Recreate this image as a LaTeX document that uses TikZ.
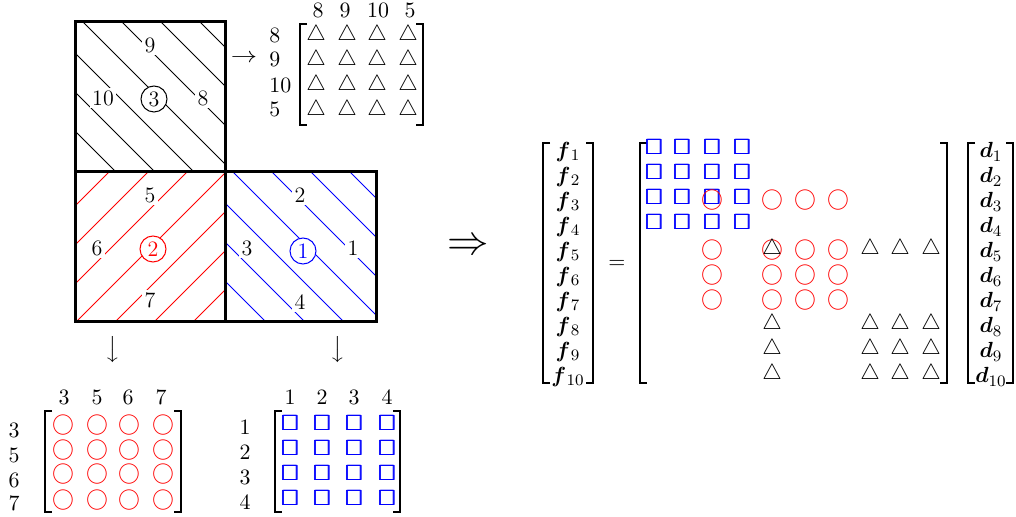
\documentclass[tikz,border=0pt]{standalone}
\usepackage{amsmath,amssymb,bm,graphicx}
\begin{document}
\begin{tikzpicture}[x=0.5pt,y=-0.5pt,
  every node/.style={font=\fontsize{11}{13}\selectfont},
  lbl/.style={fill=white,inner sep=1.2pt},
  cnum/.style={circle,draw,fill=white,minimum size=13pt,inner sep=0pt,line width=0.5pt},
  elem/.style={line width=1.5pt,line join=miter},
  hatch/.style={line width=0.5pt},
  brk/.style={line width=0.9pt},
  gl/.style={inner sep=0pt}]
\useasboundingbox (0,0) rectangle (1016,517);
% ---------- hatching ----------
\begin{scope}
  \clip (75,22) rectangle (225,172);
  \foreach \c in {-95,-56,-17,22,61,100,139,178} \draw[hatch] (\c,0) -- (\c+200,200);
\end{scope}
\begin{scope}
  \clip (75,172) rectangle (225,322);
  \foreach \c in {281,320,359,398,437,476,515} \draw[hatch,red] (\c-150,150) -- (\c-350,350);
\end{scope}
\begin{scope}
  \clip (225,172) rectangle (376,322);
  \foreach \c in {-95,-56,-17,22,61,100,139,178} \draw[hatch,blue] (\c+150,150) -- (\c+350,350);
\end{scope}
% ---------- element borders ----------
\draw[elem] (75,22) rectangle (225,172);
\draw[elem] (75,172) rectangle (225,322);
\draw[elem] (225,172) rectangle (376,322);
% ---------- element labels ----------
\node[lbl] (n9a) at (150,45) {9};
\node[lbl] (n10a) at (103,98) {10};
\node[cnum] (e3) at (154,99) {3};
\node[lbl] (n8a) at (203,98) {8};
\node[lbl] (n5b) at (150,195) {5};
\node[lbl] (n6b) at (97,248) {6};
\node[cnum,draw=red,text=red] (e2) at (153,249) {2};
\node[lbl] (n7b) at (150,300) {7};
\node[lbl] (n2c) at (300,195) {2};
\node[lbl] (n3c) at (247,248) {3};
\node[cnum,draw=blue,text=blue] (e1) at (303,251) {1};
\node[lbl] (n1c) at (353,248) {1};
\node[lbl] (n4c) at (300,302) {4};
% ---------- element 3 matrix ----------
\node (ar3) at (244,58) {\scalebox{1.2}[1]{$\rightarrow$}};
\foreach \x/\t [count=\i] in {318/8,345/9,378/10,410/5} \node (h3\i) at (\x,10) {$\t$};
\foreach \y/\t [count=\i] in {35/8,59/9,85/10,109/5} \node[anchor=west,inner sep=0pt] (r3\i) at (269,\y) {$\t$};
\foreach \y [count=\i] in {35,60,85,110}
  \foreach \x [count=\j] in {316,347,377,408}
    \node[gl] (m3-\i-\j) at (\x,\y) {$\triangle$};
\draw[brk] (307,24) -- (300,24) -- (300,125) -- (307,125);
\draw[brk] (416,24) -- (423,24) -- (423,125) -- (416,125);
% ---------- element 2 matrix ----------
\node[inner sep=0pt] (ar2) at (113,350) {$\big\downarrow$};
\foreach \x/\t [count=\i] in {64/3,97/5,128/6,161/7} \node (h2\i) at (\x,397) {$\t$};
\foreach \y/\t [count=\i] in {430/3,455/5,480/6,503/7} \node (r2\i) at (14,\y) {$\t$};
\foreach \y [count=\i] in {425,450,474,500}
  \foreach \x [count=\j] in {63,97,129,163}
    \node[gl,red] (m2-\i-\j) at (\x,\y) {$\bigcirc$};
\draw[brk] (52,411) -- (45,411) -- (45,512) -- (52,512);
\draw[brk] (174,411) -- (181,411) -- (181,512) -- (174,512);
% ---------- element 1 matrix ----------
\node[inner sep=0pt] (ar1) at (338,350) {$\big\downarrow$};
\foreach \x/\t [count=\i] in {290/1,322/2,354/3,387/4} \node (h1\i) at (\x,397) {$\t$};
\foreach \y/\t [count=\i] in {427/1,452/2,477/3,502/4} \node (r1\i) at (245,\y) {$\t$};
\foreach \y [count=\i] in {423,448,473,498}
  \foreach \x [count=\j] in {290,322,354,387}
    \node[gl,blue] (m1-\i-\j) at (\x,\y) {$\bm{\square}$};
\draw[brk] (282,411) -- (275,411) -- (275,512) -- (282,512);
\draw[brk] (393,411) -- (400,411) -- (400,512) -- (393,512);
% ---------- assembled system ----------
\node[font=\fontsize{21}{25}\selectfont] (imp) at (468,247) {$\Rightarrow$};
\foreach \i [evaluate=\i as \y using 127+25*\i] in {1,...,10}
  \node (f\i) at (568,\y) {$\bm{f}_{\,\i}$};
\draw[brk] (550,143) -- (543,143) -- (543,383) -- (550,383);
\draw[brk] (586,143) -- (593,143) -- (593,383) -- (586,383);
\node (eq) at (617,264) {$=$};
\draw[brk] (647,143) -- (640,143) -- (640,383) -- (647,383);
\draw[brk] (940,143) -- (947,143) -- (947,383) -- (940,383);
\foreach \y [count=\i] in {147,172,197,222}
  \foreach \x [count=\j] in {654,682,712,742}
    \node[gl,blue] (K-s\i-\j) at (\x,\y) {$\bm{\square}$};
\foreach \y/\r in {200.5/3,250.5/5,275.5/6,300.5/7}
  \foreach \x/\c in {712/3,772/5,805/6,838/7}
    \node[gl,red] (K-c\r-\c) at (\x,\y) {$\bigcirc$};
\foreach \y/\r in {249/5,324/8,349/9,374/10}
  \foreach \x/\c in {772/5,870/8,900/9,931/10}
    \node[gl] (K-t\r-\c) at (\x,\y) {$\triangle$};
\foreach \i [evaluate=\i as \y using 127+25*\i] in {1,...,10}
  \node (d\i) at (991,\y) {$\bm{d}_{\i}$};
\draw[brk] (975,143) -- (968,143) -- (968,383) -- (975,383);
\draw[brk] (1006,143) -- (1013,143) -- (1013,383) -- (1006,383);
\end{tikzpicture}
\end{document}
